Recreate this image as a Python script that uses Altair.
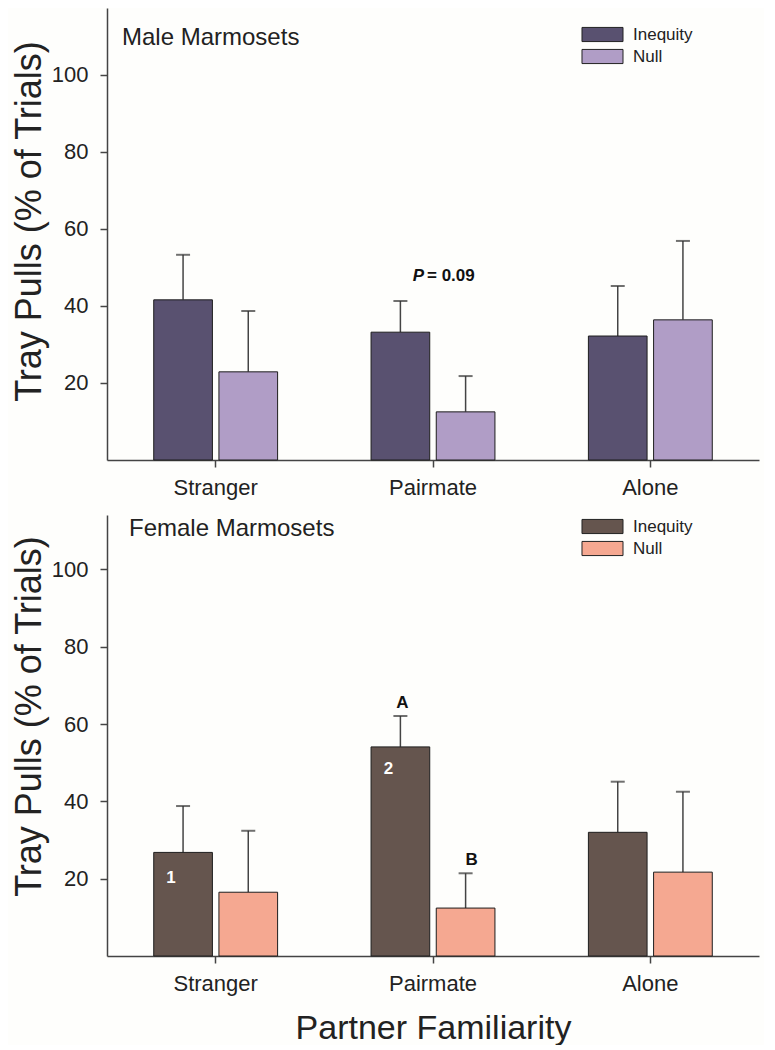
import altair as alt
import pandas as pd

# ---------------- data ----------------
categories = ["Stranger", "Pairmate", "Alone"]
series = ["Inequity", "Null"]

male_inequity = [41.6, 33.2, 32.2]
male_inequity_upper = [53.3, 41.3, 45.2]
male_null = [22.9, 12.5, 36.4]
male_null_upper = [38.7, 21.8, 56.9]

female_inequity = [26.8, 54.1, 32.0]
female_inequity_upper = [38.8, 62.1, 45.1]
female_null = [16.5, 12.4, 21.7]
female_null_upper = [32.4, 21.4, 42.5]

y_ticks = [20, 40, 60, 80, 100]

male_colors = ["#595170", "#b09dc6"]
female_colors = ["#65554e", "#f5a891"]

# annotations (text, category, series, value)
male_note_text = ["P", "= 0.09"]
male_note_cat = ["Pairmate", "Pairmate"]
male_note_value = [46.6, 46.6]

female_letter_text = ["A", "B"]
female_letter_cat = ["Pairmate", "Pairmate"]
female_letter_series = ["Inequity", "Null"]
female_letter_value = [64.2, 23.5]

female_number_text = ["1", "2"]
female_number_cat = ["Stranger", "Pairmate"]
female_number_series = ["Inequity", "Inequity"]
female_number_value = [18.9, 47.1]

FONT = "Liberation Sans"
Y_TITLE = "Tray Pulls (% of Trials)"
X_TITLE = "Partner Familiarity"
SWATCH = "M-2.9,-1L2.9,-1L2.9,1L-2.9,1Z"


def make_df(ineq, ineq_up, null, null_up):
    rows = []
    for i, c in enumerate(categories):
        rows.append({"cat": c, "series": "Inequity", "value": ineq[i], "upper": ineq_up[i]})
        rows.append({"cat": c, "series": "Null", "value": null[i], "upper": null_up[i]})
    return pd.DataFrame(rows)


def panel(df, colors, ymax, x_title, title_text, title_x, title_y, ytitle_y, legend_y):
    xscale = alt.Scale(paddingInner=0.43, paddingOuter=0.215)
    xaxis = alt.Axis(
        labelAngle=0, labelFontSize=22, labelPadding=10, tickSize=7,
        titleFontSize=34, titlePadding=17, titleFontWeight="normal",
    )
    x = alt.X("cat:N", sort=categories, scale=xscale, axis=xaxis,
              title=x_title if x_title else None)
    xoff = alt.XOffset("series:N", sort=series,
                       scale=alt.Scale(paddingInner=0.1, paddingOuter=0))
    yscale = alt.Scale(domain=[0, ymax], nice=False, zero=True)
    yaxis = alt.Axis(values=y_ticks, labelFontSize=22, labelPadding=12, tickSize=7,
                     titleFontSize=36, titlePadding=3, titleFontWeight="normal",
                     titleY=ytitle_y)
    y = alt.Y("value:Q", scale=yscale, axis=yaxis, title=Y_TITLE)

    base = alt.Chart(df)
    rules = base.mark_rule(color="#444444", strokeWidth=1.5).encode(
        x=x, xOffset=xoff, y=alt.Y("value:Q", scale=yscale), y2="upper:Q"
    )
    caps = base.mark_tick(color="#333333", size=14, thickness=2, orient="horizontal").encode(
        x=x, xOffset=xoff, y=alt.Y("upper:Q", scale=yscale)
    )
    bars = base.mark_bar(stroke="#1e1e1e", strokeWidth=1).encode(
        x=x, xOffset=xoff, y=y,
        color=alt.Color(
            "series:N", sort=series,
            scale=alt.Scale(domain=series, range=colors),
            legend=alt.Legend(
                title=None, orient="none", legendX=487, legendY=legend_y,
                symbolType=SWATCH, symbolSize=200,
                symbolStrokeColor="#222222", symbolStrokeWidth=1, symbolOpacity=1,
                labelFontSize=17, labelFont=FONT, labelColor="#222222",
                labelOffset=22, rowPadding=3, padding=0,
            ),
        ),
    )
    title = alt.Chart(pd.DataFrame({"t": [title_text]})).mark_text(
        align="left", baseline="alphabetic", fontSize=24, font=FONT, color="#222222"
    ).encode(x=alt.value(title_x), y=alt.value(title_y), text="t:N")
    return rules, caps, bars, title, yscale


male_df = make_df(male_inequity, male_inequity_upper, male_null, male_null_upper)
female_df = make_df(female_inequity, female_inequity_upper, female_null, female_null_upper)

m_rules, m_caps, m_bars, m_title, myscale = panel(
    male_df, male_colors, 117.4, None, "Male Marmosets", 15, 37, 213, 18)
f_rules, f_caps, f_bars, f_title, fyscale = panel(
    female_df, female_colors, 114.1, X_TITLE, "Female Marmosets", 22, 21, 201, 3)

male_note = pd.DataFrame({"t": male_note_text, "cat": male_note_cat, "v": male_note_value})
m_note_p = alt.Chart(male_note.iloc[[0]]).mark_text(
    align="right", baseline="alphabetic", fontSize=17, fontWeight="bold", fontStyle="italic",
    font=FONT, color="#111111", dx=-9
).encode(x=alt.X("cat:N", sort=categories), y=alt.Y("v:Q", scale=myscale), text="t:N")
m_note_rest = alt.Chart(male_note.iloc[[1]]).mark_text(
    align="left", baseline="alphabetic", fontSize=17, fontWeight="bold",
    font=FONT, color="#111111", dx=-6
).encode(x=alt.X("cat:N", sort=categories), y=alt.Y("v:Q", scale=myscale), text="t:N")

letters = pd.DataFrame({"t": female_letter_text, "cat": female_letter_cat,
                        "series": female_letter_series, "v": female_letter_value})
f_letter_a = alt.Chart(letters.iloc[[0]]).mark_text(
    align="center", baseline="alphabetic", fontSize=17, fontWeight="bold",
    font=FONT, color="#111111", dx=2
).encode(x=alt.X("cat:N", sort=categories), xOffset=alt.XOffset("series:N", sort=series),
         y=alt.Y("v:Q", scale=fyscale), text="t:N")
f_letter_b = alt.Chart(letters.iloc[[1]]).mark_text(
    align="center", baseline="alphabetic", fontSize=17, fontWeight="bold",
    font=FONT, color="#111111", dx=6
).encode(x=alt.X("cat:N", sort=categories), xOffset=alt.XOffset("series:N", sort=series),
         y=alt.Y("v:Q", scale=fyscale), text="t:N")

numbers = pd.DataFrame({"t": female_number_text, "cat": female_number_cat,
                        "series": female_number_series, "v": female_number_value})
f_numbers = alt.Chart(numbers).mark_text(
    align="center", baseline="alphabetic", fontSize=17, fontWeight="bold",
    font=FONT, color="#ffffff", dx=-12
).encode(x=alt.X("cat:N", sort=categories), xOffset=alt.XOffset("series:N", sort=series),
         y=alt.Y("v:Q", scale=fyscale), text="t:N")

top = alt.layer(m_rules, m_caps, m_bars, m_title, m_note_p, m_note_rest).properties(
    width=652, height=452)
bottom = alt.layer(f_rules, f_caps, f_bars, f_title, f_letter_a, f_letter_b, f_numbers).properties(
    width=652, height=441)

chart = alt.vconcat(top, bottom, spacing=17).resolve_scale(
    color="independent", y="independent", x="independent", xOffset="independent"
).resolve_legend(color="independent").properties(
    padding={"left": 3, "top": 0, "right": 5, "bottom": 0}
).configure(
    background="#fefefc", font=FONT
).configure_view(stroke=None).configure_axis(
    grid=False, domainColor="#444444", domainWidth=1.5, tickColor="#444444", tickWidth=1.5,
    labelColor="#222222", titleColor="#222222", labelFont=FONT, titleFont=FONT
)

chart.save("out.html", embed_options={"renderer": "svg", "actions": False})
